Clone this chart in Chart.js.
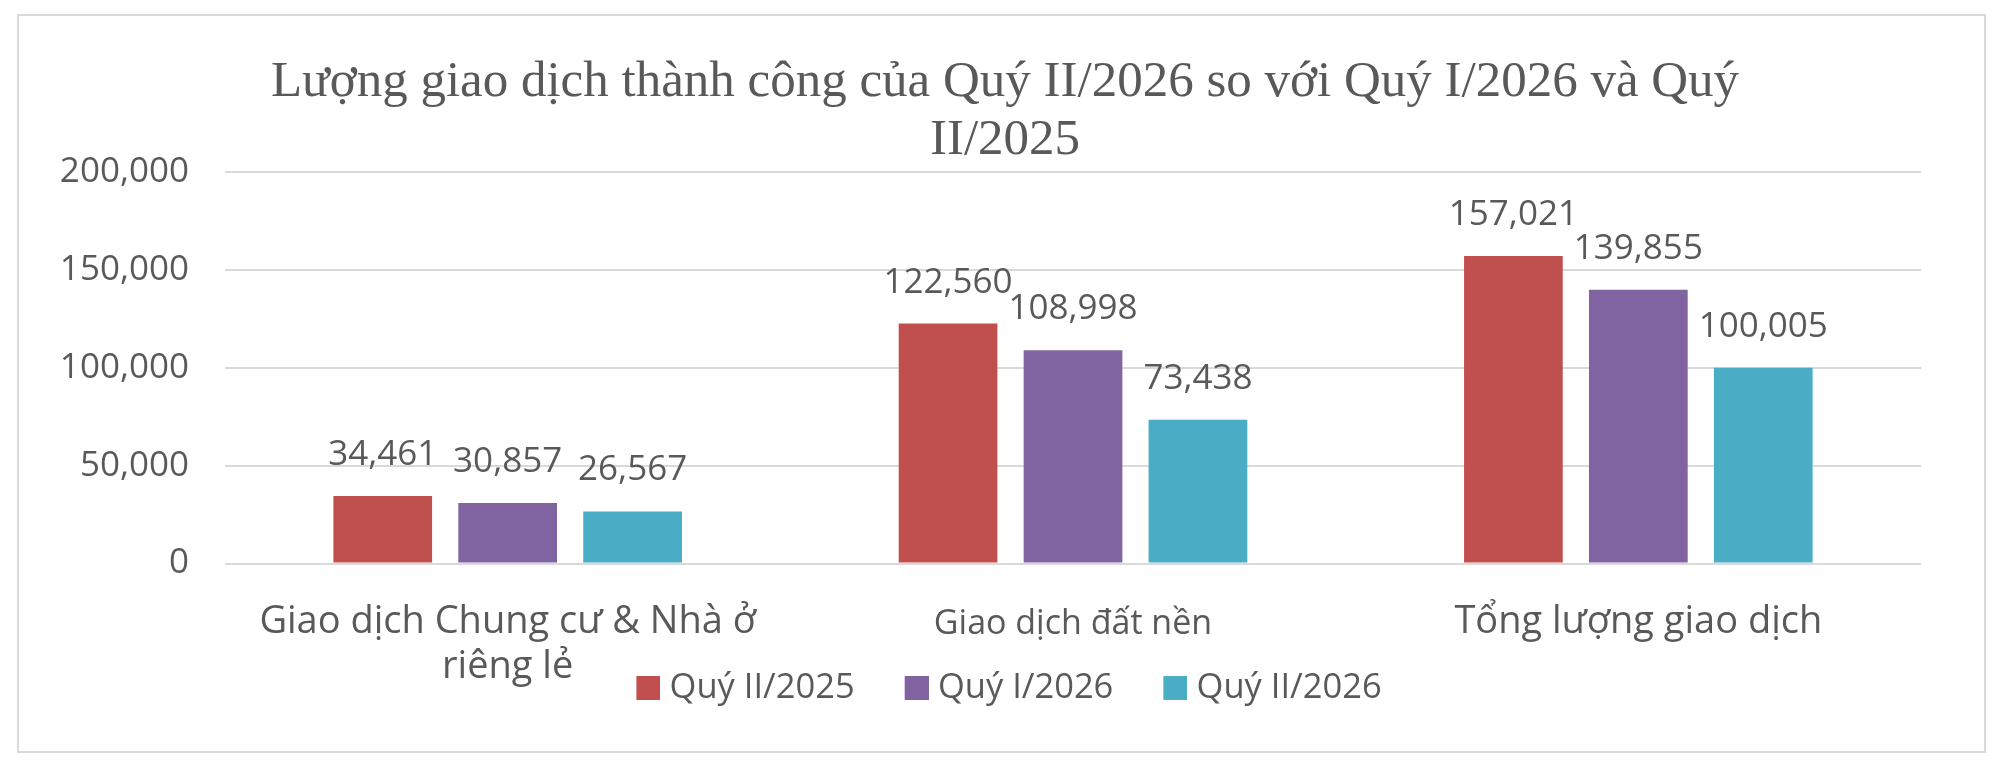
<!DOCTYPE html>
<html>
<head>
<meta charset="utf-8">
<script src="https://cdn.jsdelivr.net/npm/chart.js@4/dist/chart.umd.min.js"></script>
<style>
  html, body { margin: 0; padding: 0; background: #fff; }
  #box {
    position: absolute; left: 17px; top: 14px;
    width: 1969px; height: 739px;
    border: 2px solid #d9d9d9; box-sizing: border-box;
  }
  #myChart { display: block; }
</style>
</head>
<body>
<div id="box"><canvas id="myChart" width="1965" height="735"></canvas></div>
<script>
// Chart data
const categories = [
    ['Giao dịch Chung cư & Nhà ở', 'riêng lẻ'],
    'Giao dịch đất nền',
    'Tổng lượng giao dịch'
];
const seriesNames = ['Quý II/2025', 'Quý I/2026', 'Quý II/2026'];
const q2_2025 = [34461, 122560, 157021];
const q1_2026 = [30857, 108998, 139855];
const q2_2026 = [26567, 73438, 100005];
const yTicks = [0, 50000, 100000, 150000, 200000];

const colors = ['#C0504D', '#8064A2', '#4BACC6']; // red, purple, teal
const textGray = '#595959';

// Legend swatch: square sits at the right of a wider canvas so the gap to the text is small
const makeSwatch = (color) => {
    const c = document.createElement('canvas');
    c.width = 40;
    c.height = 24;
    const g = c.getContext('2d');
    g.fillStyle = color;
    g.fillRect(16, 0, 24, 24);
    return c;
};
const swatches = colors.map(makeSwatch);

// Draw the value above each bar (no datalabels plugin available offline)
const barValueLabels = {
    id: 'barValueLabels',
    afterDatasetsDraw(chart) {
        const ctx = chart.ctx;
        ctx.save();
        ctx.font = '35px "Open Sans"';
        ctx.fillStyle = textGray;
        ctx.textAlign = 'center';
        ctx.textBaseline = 'alphabetic';
        chart.data.datasets.forEach((ds, i) => {
            const meta = chart.getDatasetMeta(i);
            meta.data.forEach((bar, j) => {
                ctx.fillText(ds.data[j].toLocaleString('en-US'), bar.x, bar.y - 31);
            });
        });
        ctx.restore();
    }
};

// axis boxes are squeezed below, so let tick labels draw outside them
const noLabelClip = (scale) => { scale._computeLabelArea = () => null; };

const ctx = document.getElementById('myChart').getContext('2d');
new Chart(ctx, {
    type: 'bar',
    data: {
        labels: categories,
        datasets: [
            { label: seriesNames[0], data: q2_2025, backgroundColor: colors[0] },
            { label: seriesNames[1], data: q1_2026, backgroundColor: colors[1] },
            { label: seriesNames[2], data: q2_2026, backgroundColor: colors[2] }
        ]
    },
    options: {
        responsive: false,
        animation: false,
        categoryPercentage: 0.663,
        barPercentage: 0.79,
        layout: {
            padding: { left: 70, right: 63, top: 0, bottom: 36 }
        },
        scales: {
            x: {
                afterFit: (scale) => { scale.height = 65; noLabelClip(scale); },
                grid: { display: false },
                border: { display: false },
                ticks: {
                    color: textGray,
                    maxRotation: 0,
                    autoSkip: false,
                    padding: 28,
                    font: (c) => ({
                        family: '"Open Sans"',
                        size: c.index === 1 ? 34 : 38,
                        lineHeight: c.index === 1 ? 1.45 : 1.184
                    })
                }
            },
            y: {
                min: 0,
                max: 200000,
                afterFit: (scale) => { scale.width = 136; noLabelClip(scale); },
                afterBuildTicks: (scale) => {
                    scale.ticks = yTicks.map(v => ({ value: v }));
                },
                grid: {
                    color: '#d9d9d9',
                    lineWidth: 2,
                    drawTicks: false
                },
                border: { display: false },
                ticks: {
                    color: textGray,
                    padding: 36,
                    font: { family: '"Open Sans"', size: 35 },
                    callback: (v) => v.toLocaleString('en-US')
                }
            }
        },
        plugins: {
            title: {
                display: true,
                text: ['Lượng giao dịch thành công của Quý II/2026 so với Quý I/2026 và Quý', 'II/2025'],
                color: textGray,
                font: { family: '"Liberation Serif", "Times New Roman", serif', size: 51, weight: 'normal', lineHeight: 1.143 },
                padding: { top: 37, bottom: 2.4 }
            },
            legend: {
                position: 'bottom',
                labels: {
                    color: textGray,
                    usePointStyle: true,
                    boxWidth: 24,
                    boxHeight: 24,
                    padding: 42,
                    font: { family: '"Open Sans"', size: 34.5 },
                    generateLabels: (chart) => {
                        const items = Chart.defaults.plugins.legend.labels.generateLabels(chart);
                        items.forEach((it, i) => { it.pointStyle = swatches[i]; });
                        return items;
                    }
                }
            },
            tooltip: { enabled: false }
        }
    },
    plugins: [barValueLabels]
});
</script>
</body>
</html>
